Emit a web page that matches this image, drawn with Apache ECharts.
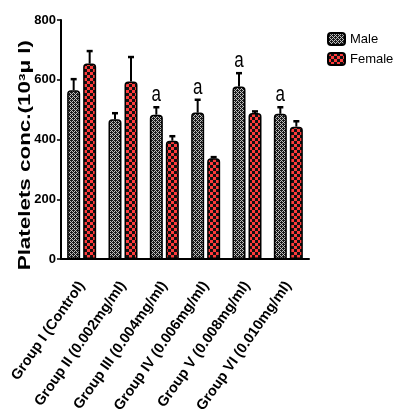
<!DOCTYPE html>
<html><head><meta charset="utf-8">
<script src="https://cdn.jsdelivr.net/npm/echarts@6/dist/echarts.min.js"></script>
<style>html,body{margin:0;padding:0;background:#fff}#c{width:395px;height:416px}</style>
</head><body><div id="c"></div>
<script>
var categories = ['Group I (Control)','Group II (0.002mg/ml)','Group III (0.004mg/ml)','Group IV (0.006mg/ml)','Group V (0.008mg/ml)','Group VI (0.010mg/ml)'];
var maleMean = [565, 468, 483, 490, 577, 486];
var maleSD = [37, 20, 25, 43, 45, 22];
var femaleMean = [654, 594, 396, 337, 489, 443];
var femaleSD = [42, 82, 15, 4, 5, 18];
var maleSig = ['', '', 'a', 'a', 'a', 'a'];
var yTicks = [0, 200, 400, 600, 800];
var yTitle = 'Platelets conc.(10³μ l)';

var FONT = "'Liberation Sans', Arial, sans-serif";

function makePattern(kind){
  var c = document.createElement('canvas');
  var ctx = c.getContext('2d');
  if(kind==='male'){
    c.width=4; c.height=4;
    ctx.fillStyle='#1a1a1a'; ctx.fillRect(0,0,4,4);
    ctx.fillStyle='#c0c0c0';
    ctx.fillRect(1,0,1,1); ctx.fillRect(0,1,1,1); ctx.fillRect(2,1,1,1);
    ctx.fillRect(3,2,1,1); ctx.fillRect(2,3,1,1); ctx.fillRect(0,3,1,1);
  } else {
    c.width=6; c.height=6;
    ctx.fillStyle='#111'; ctx.fillRect(0,0,6,6);
    ctx.fillStyle='#ff3b3b';
    ctx.fillRect(0,0,3,3); ctx.fillRect(3,3,3,3);
  }
  return {image:c, repeat:'repeat'};
}
var malePat = makePattern('male');
var femalePat = makePattern('female');

var BW = 13, GAP = 3;
var off = (BW+GAP)/2;

function errRender(sign, sigArr){
  return function(params, api){
    var i = api.value(0);
    var top = api.coord([i, api.value(2)]);
    var base = api.coord([i, api.value(1)]);
    var x = top[0] + sign*off;
    var children = [
      {type:'line', shape:{x1:x, y1:base[1], x2:x, y2:top[1]}, style:{stroke:'#000', lineWidth:2}},
      {type:'line', shape:{x1:x-3, y1:top[1], x2:x+3, y2:top[1]}, style:{stroke:'#000', lineWidth:2.5}}
    ];
    if(sigArr && sigArr[i]){
      children.push({type:'text', x:x, y:top[1]-1, scaleY:1.25, style:{x:0, y:0, text:sigArr[i], fill:'#000', font:'17px '+FONT, textAlign:'center', textVerticalAlign:'bottom'}});
    }
    return {type:'group', children:children};
  };
}

var chart = echarts.init(document.getElementById('c'));
chart.setOption({
  animation:false,
  grid:{left:61, right:86, top:20, bottom:157},
  graphic:[{
    type:'text', left:18, top:40, rotation:Math.PI/2, scaleX:1.4, z:10,
    style:{text:yTitle, font:'bold 16px '+FONT, fill:'#000', textAlign:'center', textVerticalAlign:'middle'}
  }],
  legend:{
    left:322, top:27, orient:'vertical', itemWidth:17, itemHeight:12, itemGap:6,
    textStyle:{fontFamily:FONT, fontSize:13, color:'#000'},
    data:[{name:'Male', icon:'roundRect'},{name:'Female', icon:'roundRect'}]
  },
  xAxis:{
    type:'category', data:categories,
    axisLine:{lineStyle:{color:'#000', width:2}},
    axisTick:{alignWithLabel:true, length:5, lineStyle:{color:'#000', width:1.5}},
    axisLabel:{rotate:55, interval:0, margin:24, fontFamily:FONT, fontWeight:'bold', fontSize:14.5, color:'#000'}
  },
  yAxis:{
    type:'value', min:0, max:800, interval:200,
    axisLine:{show:true, lineStyle:{color:'#000', width:2}},
    axisTick:{show:true, length:4, lineStyle:{color:'#000', width:1.5}},
    axisLabel:{fontFamily:FONT, fontWeight:'bold', fontSize:13, color:'#000', margin:5,
      formatter:function(v){return yTicks.indexOf(v)>=0 ? String(v) : '';}},
    splitLine:{show:false}
  },
  series:[
    {name:'Male', type:'bar', data:maleMean, barWidth:BW, barGap:(GAP/BW*100)+'%',
      itemStyle:{color:malePat, borderColor:'#000', borderWidth:1.5, borderRadius:[3,3,0,0]}},
    {name:'Female', type:'bar', data:femaleMean, barWidth:BW,
      itemStyle:{color:femalePat, borderColor:'#000', borderWidth:1.5, borderRadius:[3,3,0,0]}},
    {type:'custom', renderItem:errRender(-1, maleSig), z:5,
      data:maleMean.map(function(v,i){return [i, v, v+maleSD[i]];})},
    {type:'custom', renderItem:errRender(1, null), z:5,
      data:femaleMean.map(function(v,i){return [i, v, v+femaleSD[i]];})}
  ]
});
</script></body></html>
